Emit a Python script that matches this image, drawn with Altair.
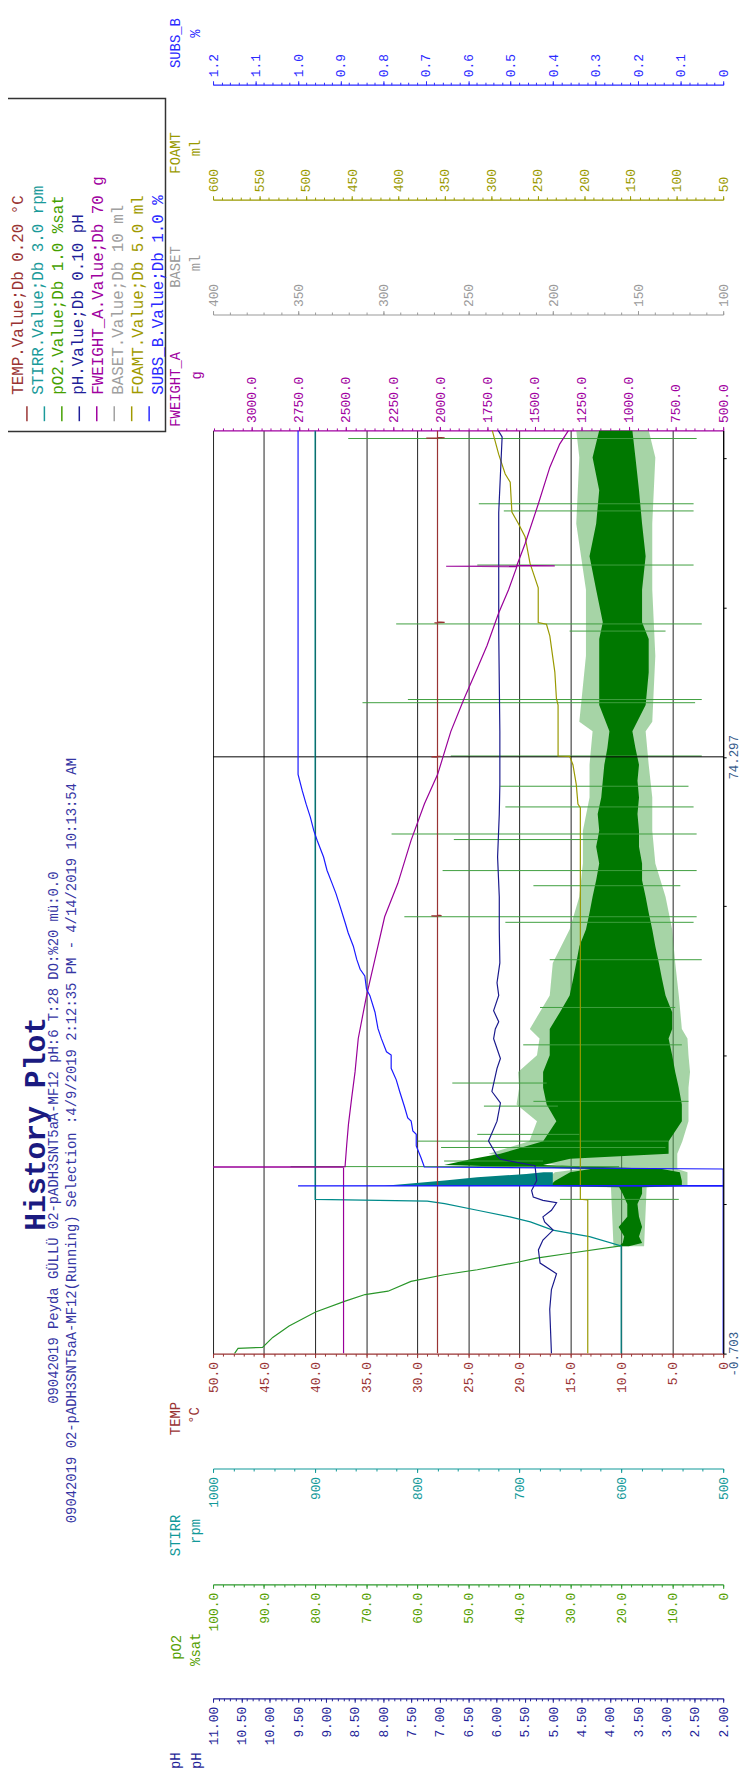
import altair as alt
import pandas as pd

MONO = "Liberation Mono"
W, H = 515, 932

# ---------------- time axis ----------------
T_DOMAIN = [-0.703, 115.32]
TIME_TICKS = [-0.703, 18.047, 36.797, 55.547, 74.297, 93.047, 111.797]
CURSOR_T = [74.297]

# ---------------- series (hours, value) ----------------
TEMP_T = [-0.703, 54.25, 54.30, 54.35, 54.40, 74.25, 74.30, 74.35, 74.40, 91.10, 91.15, 91.20, 91.25,
          114.30, 114.35, 114.40, 114.45, 115.32]
TEMP_V = [28.0, 28.0, 28.6, 27.6, 28.0, 28.0, 28.6, 27.7, 28.0, 28.0, 28.3, 27.3, 28.0,
          28.0, 29.1, 27.3, 28.0, 28.0]

STIRR_T = [-0.703, 12.83, 13.99, 14.82, 15.85, 16.48, 17.31, 18.14, 18.47, 18.68, 115.32]
STIRR_V = [600, 600, 631, 667, 689, 709, 741, 773, 790, 900, 900]

STIRR_BAND_T = [20.38, 20.60, 21.04, 21.46, 21.87, 22.08]
STIRR_BAND_LO = [667, 667, 667, 667, 667, 667]
STIRR_BAND_HI = [832, 812, 773, 741, 693, 676]

PO2_T = [-0.703, -0.04, 0.08, 1.33, 2.78, 4.53, 5.89, 6.72, 7.14, 8.38, 9.21, 9.84, 10.75, 11.29, 11.91, 12.83]
PO2_V = [95.8, 95.1, 90.3, 88.3, 85.1, 79.9, 74.1, 70.2, 65.7, 61.2, 54.7, 48.2, 40.5, 36.6, 30.1, 20.1]

PO2_BAND_T = [12.8, 13.2, 14.0, 15.2, 16.5, 18.1, 19.4, 20.2, 20.35, 21.0, 22.1, 22.5, 23.0, 23.8,
              24.4, 26.0, 28.5, 30.6, 32.7, 34.7, 36.8, 38.9, 40.1, 42.2, 44.3, 46.4, 48.4, 50.5,
              52.6, 54.7, 56.7, 58.8, 60.9, 63.0, 65.0, 67.1, 69.2, 71.3, 73.3, 75.4, 77.5, 80.8,
              84.9, 89.1, 91.2, 95.3, 99.5, 103.6, 107.8, 111.9, 115.32]
PO2_BAND_LO = [18.5, 15.9, 16.5, 15.9, 16.5, 16.8, 15.9, 15.9, 8.1, 8.1, 8.5, 12.0, 35.3, 30.0,
               10.7, 10.7, 8.1, 8.1, 8.7, 9.4, 10.0, 10.7, 10.0, 10.0, 11.3, 12.0, 12.6, 13.3,
               13.9, 14.6, 15.2, 15.9, 15.9, 16.5, 16.5, 16.8, 16.5, 16.8, 16.5, 17.2, 17.8, 15.2,
               14.6, 14.6, 15.9, 15.9, 15.2, 15.9, 16.5, 17.2, 17.8]
PO2_BAND_HI = [20.5, 19.7, 19.4, 20.5, 18.8, 18.8, 19.7, 20.4, 34.0, 33.0, 30.0, 26.0, 54.7, 49.0,
               43.7, 35.3, 32.7, 34.6, 35.3, 35.3, 34.0, 34.0, 34.0, 32.0, 30.1, 29.4, 28.8, 28.2,
               26.9, 26.2, 25.6, 24.9, 24.3, 24.9, 24.3, 24.6, 23.9, 23.6, 23.3, 22.7, 22.3, 24.3,
               24.3, 24.3, 23.6, 24.9, 26.2, 24.9, 24.3, 25.6, 24.3]

PO2_OUT_T = [12.8, 20.2, 20.35, 22.1, 22.5, 24.4, 26.0, 28.5, 30.6, 32.7, 34.7, 36.8, 38.9, 40.1,
             44.3, 48.4, 52.6, 56.7, 60.9, 65.0, 69.2, 73.3, 77.5, 78.7, 87.0, 95.3, 103.6, 111.9, 115.32]
PO2_OUT_LO = [15.5, 15.0, 7.0, 7.0, 9.0, 9.0, 8.0, 6.8, 6.8, 6.8, 6.5, 6.8, 7.0, 8.1,
              8.7, 9.4, 10.0, 11.3, 13.3, 13.9, 13.9, 14.6, 15.2, 13.9, 13.3, 13.9, 13.9, 13.3, 14.6]
PO2_OUT_HI = [21.5, 22.0, 36.0, 33.0, 28.0, 46.0, 38.0, 36.5, 40.5, 40.0, 40.2, 36.5, 36.0, 37.9,
              34.0, 33.4, 30.1, 28.2, 27.5, 27.5, 26.2, 26.2, 25.6, 28.2, 26.9, 26.9, 28.8, 28.2, 28.8]

SPIKE_T = [18.68, 22.80, 23.5, 25.2, 26.0, 26.85, 30.4, 31.0, 33.3, 38.1, 42.8, 48.8, 53.5, 54.2, 58.1,
           60.0, 63.9, 64.6, 68.0, 70.6, 74.4, 81.1, 81.5, 90.1, 91.0, 98.4, 105.2, 106.1, 114.3]
SPIKE_LO = [8.7, 20.4, 35.3, 11.3, 10.7, 28.2, 32.4, 6.8, 34.6, 8.1, 9.4, 4.2, 5.8, 5.2, 8.4,
            5.2, 24.6, 5.2, 5.8, 6.8, 4.2, 5.5, 4.2, 11.3, 4.2, 5.8, 5.8, 5.8, 5.2]
SPIKE_HI = [32.0, 84.8, 54.7, 55.3, 59.9, 48.2, 46.9, 37.2, 53.1, 39.2, 35.9, 34.0, 42.7, 62.5, 37.2,
            55.0, 52.8, 65.0, 42.7, 43.7, 53.4, 70.7, 61.8, 30.1, 64.1, 48.2, 43.0, 47.9, 73.5]

PH_T = [-0.703, 4.86, 7.35, 9.34, 10.67, 12.33, 13.57, 14.82, 15.85, 16.48, 17.31, 18.26, 18.55, 18.97,
        19.80, 21.04, 22.91, 23.32, 23.74, 24.15, 26.02, 28.51, 30.79, 32.24, 35.15, 36.39, 38.88, 40.1,
        41.0, 42.4, 44.3, 45.9, 48.4, 52.6, 56.7, 61.7, 67.1, 70.8, 77.5, 90.0, 105.0, 114.5, 115.32]
PH_V = [5.03, 5.06, 5.03, 4.94, 5.23, 5.26, 5.18, 5.00, 5.15, 5.18, 5.03, 4.94, 5.18, 5.35,
        5.38, 5.29, 5.32, 5.64, 5.93, 5.99, 6.14, 5.99, 5.93, 6.08, 5.99, 5.93, 6.05, 6.02,
        5.96, 6.05, 5.96, 5.99, 5.94, 5.95, 5.95, 5.98, 5.95, 5.94, 5.94, 5.96, 5.96, 5.90, 5.97]

FW_T = [-0.703, 22.70, 22.75, 22.80, 25.6, 28.1, 31.4, 34.7, 38.9, 44.3, 48.8, 54.2, 58.4, 63.8, 68.4,
        72.1, 77.5, 81.6, 85.4, 88.3, 92.4, 95.3, 98.20, 98.25, 98.30, 98.35, 101.1, 106.1, 110.7, 113.6, 115.32]
FW_V = [2513, 2513, 3400, 2505, 2496, 2487, 2470, 2452, 2435, 2391, 2347, 2295, 2225, 2155, 2084,
        2014, 1944, 1874, 1804, 1752, 1690, 1638, 1594, 1969, 1393, 1594, 1550, 1480, 1419, 1367, 1320]

FOAM_T = [-0.703, 18.6, 18.7, 67.9, 68.35, 70.84, 73.3, 74.36, 74.40, 80.8, 81.63, 84.95, 89.5, 90.96,
          91.17, 95.53, 98.64, 101.96, 103.6, 105.07, 108.8, 109.85, 112.3, 115.32]
FOAM_V = [196, 196, 204, 204, 206.6, 208.4, 212, 215.5, 228, 228, 229.8, 231.5, 236.9, 240.5,
          249.4, 249.4, 258.3, 263.6, 270.7, 277.8, 279.6, 285, 292, 299]

SUBS_T = [-0.703, 20.34, 20.38, 20.42, 22.50, 22.75, 23.95, 25.40, 26.85, 27.27, 28.51, 28.93, 30.38,
          32.24, 33.70, 35.15, 36.81, 37.23, 38.88, 40.13, 42.20, 44.28, 45.10, 46.77, 47.60, 48.84,
          50.50, 52.16, 53.41, 55.48, 57.14, 58.39, 60.05, 61.71, 63.78, 65.03, 66.69, 68.35, 70.01,
          72.08, 115.32]
SUBS_V = [0.0, 0.0, 1.0, 0.0, 0.0, 0.703, 0.711, 0.722, 0.722, 0.730, 0.734, 0.742, 0.750,
          0.761, 0.769, 0.781, 0.781, 0.792, 0.804, 0.812, 0.819, 0.831, 0.839, 0.843, 0.854, 0.862,
          0.870, 0.882, 0.889, 0.901, 0.911, 0.920, 0.932, 0.940, 0.955, 0.963, 0.971, 0.981, 0.990,
          1.0, 1.0]

# ---------------- axis scales and tick labels ----------------
TEMP_DOMAIN = [0, 50]
TEMP_TICKS = [0, 5, 10, 15, 20, 25, 30, 35, 40, 45, 50]
STIRR_DOMAIN = [500, 1000]
STIRR_TICKS = [500, 600, 700, 800, 900, 1000]
PO2_DOMAIN = [0, 100]
PO2_TICKS = [0, 10, 20, 30, 40, 50, 60, 70, 80, 90, 100]
PH_DOMAIN = [2, 11]
PH_TICKS = [2.0, 2.5, 3.0, 3.5, 4.0, 4.5, 5.0, 5.5, 6.0, 6.5, 7.0, 7.5, 8.0, 8.5, 9.0, 9.5, 10.0, 10.5, 11.0]
FW_DOMAIN = [500, 3205]
FW_TICKS = [500, 750, 1000, 1250, 1500, 1750, 2000, 2250, 2500, 2750, 3000]
BASET_DOMAIN = [100, 400]
BASET_TICKS = [100, 150, 200, 250, 300, 350, 400]
FOAM_DOMAIN = [50, 600]
FOAM_TICKS = [50, 100, 150, 200, 250, 300, 350, 400, 450, 500, 550, 600]
SUBS_DOMAIN = [0, 1.2]
SUBS_TICKS = [0.0, 0.1, 0.2, 0.3, 0.4, 0.5, 0.6, 0.7, 0.8, 0.9, 1.0, 1.1, 1.2]


def minor(lo, step, n, nd=3):
    return [round(lo + step * k, nd) for k in range(n + 1)]


TEMP_MINOR = minor(0, 1, 50)
STIRR_MINOR = minor(500, 20, 25)
PO2_MINOR = minor(0, 2, 50)
PH_MINOR = minor(2, 0.1, 90)
FW_MINOR = minor(500, 50, 54)
BASET_MINOR = minor(100, 10, 30)
FOAM_MINOR = minor(50, 10, 55)
SUBS_MINOR = minor(0, 0.02, 60)

# ---------------- texts ----------------
TITLE = "History Plot"
SUB1 = "09042019 Peyda GÜLLÜ 02-pADH3SNT5aA-MF12 pH:6 T:28 DO:%20 mü:0.0"
SUB2 = "09042019 02-pADH3SNT5aA-MF12(Running) Selection :4/9/2019 2:12:35 PM - 4/14/2019 10:13:54 AM"
LEG_NAMES = ["TEMP", "STIRR", "pO2", "pH", "FWEIGHT_A", "BASET", "FOAMT", "SUBS_B"]
LEG_LABELS = ["TEMP.Value;Db 0.20 °C", "STIRR.Value;Db 3.0 rpm", "pO2.Value;Db 1.0 %sat",
              "pH.Value;Db 0.10 pH", "FWEIGHT_A.Value;Db 70 g", "BASET.Value;Db 10 ml",
              "FOAMT.Value;Db 5.0 ml", "SUBS_B.Value;Db 1.0 %"]
LEG_COLORS = ["#993333", "#1a9a9a", "#44a000", "#1f1f99", "#a000a0", "#a0a0a0", "#a09a00", "#2a2aff"]

# ---------------- helpers ----------------
def frame(t, **cols):
    d = {"t": t}
    d.update(cols)
    df = pd.DataFrame(d)
    df["i"] = range(len(df))
    return df


def xs(domain):
    return alt.Scale(domain=domain, reverse=True, nice=False, zero=False)


YAXIS = alt.Axis(
    orient="right", values=TIME_TICKS,
    labelExpr="abs(datum.value + 0.703) < 0.001 ? '-0.703' : (abs(datum.value - 74.297) < 0.001 ? '74.297' : '')",
    tickSize=3, tickColor="black", domainColor="black", domainWidth=1.2,
    labelAngle=270, labelAlign="center", labelBaseline="top", labelPadding=1,
    labelFont=MONO, labelFontSize=12.5, labelColor="#355a8a",
    labelOverlap=False, labelFlush=False, grid=False, title=None)


def Y():
    return alt.Y("t:Q", scale=alt.Scale(domain=T_DOMAIN, nice=False, zero=False), axis=YAXIS)


def line(t, v, domain, color, width=1.2):
    return alt.Chart(frame(t, v=v)).mark_line(color=color, strokeWidth=width, clip=True).encode(
        x=alt.X("v:Q", scale=xs(domain), axis=None), y=Y(), order=alt.Order("i:Q"))


def band(t, lo, hi, domain, color, opacity=1.0):
    return alt.Chart(frame(t, lo=lo, hi=hi)).mark_area(
        orient="horizontal", color=color, opacity=opacity, clip=True).encode(
        x=alt.X("lo:Q", scale=xs(domain), axis=None), x2="hi:Q", y=Y())


def spikes(t, lo, hi, domain, color):
    return alt.Chart(frame(t, lo=lo, hi=hi)).mark_rule(color=color, strokeWidth=1, clip=True).encode(
        x=alt.X("lo:Q", scale=xs(domain), axis=None), x2="hi:Q", y=Y())


def axis_layer(domain, orient, offset, values, color, title, tx, ty,
               label_color=None, label_expr=None, is_minor=False, grid=False):
    kw = dict(orient=orient, offset=offset, values=values, tickColor=color, tickWidth=1,
              title=title, titleColor=label_color or color, titleX=tx, titleY=ty,
              titleAngle=270, titleAlign="center", titleBaseline="middle",
              titleFont=MONO, titleFontSize=14, titleFontWeight="normal", grid=grid)
    if is_minor:
        kw.update(labels=False, domain=False, tickSize=2.5)
    else:
        kw.update(domain=True, domainColor=color, domainWidth=1.2, tickSize=4, labels=True,
                  labelAngle=270, labelAlign="right" if orient == "bottom" else "left",
                  labelBaseline="middle", labelFont=MONO, labelFontSize=13,
                  labelColor=label_color or color, labelPadding=4,
                  labelOverlap=False, labelFlush=False, labelExpr=label_expr)
    if grid:
        kw.update(gridColor="#222222", gridWidth=1)
    carrier = pd.DataFrame({"t": [50.0], "v": [(domain[0] + domain[1]) / 2.0]})
    return alt.Chart(carrier).mark_point(opacity=0).encode(
        x=alt.X("v:Q", scale=xs(domain), axis=alt.Axis(**kw)), y=Y())


def text_layer(txt, x, y, size, color, weight="normal"):
    return alt.Chart(pd.DataFrame({"s": [txt]})).mark_text(
        angle=270, align="center", baseline="middle", font=MONO, fontSize=size,
        fontWeight=weight, color=color).encode(text="s:N", x=alt.value(x), y=alt.value(y))


F1 = "format(datum.value, '.1f')"
Z1 = "datum.value == 0 ? '0' : format(datum.value, '.1f')"
D0 = "format(datum.value, 'd')"
F2 = "format(datum.value, '.2f')"

axes = [
    # bottom axes (originally left-hand y axes)
    axis_layer(TEMP_DOMAIN, "bottom", 0, TEMP_TICKS, "#993333", "TEMP", -37.5, 65, label_expr=Z1, grid=True),
    axis_layer(TEMP_DOMAIN, "bottom", 0, TEMP_MINOR, "#993333", "°C", -19, 62, is_minor=True),
    axis_layer(STIRR_DOMAIN, "bottom", 116, STIRR_TICKS, "#119999", "STIRR", -37.5, 67, label_expr=D0),
    axis_layer(STIRR_DOMAIN, "bottom", 116, STIRR_MINOR, "#119999", "rpm", -18, 63, is_minor=True),
    axis_layer(PO2_DOMAIN, "bottom", 233, PO2_TICKS, "#2e9a2e", "pO2", -37, 63, label_color="#55a000", label_expr=Z1),
    axis_layer(PO2_DOMAIN, "bottom", 233, PO2_MINOR, "#2e9a2e", "%sat", -18, 65, label_color="#55a000", is_minor=True),
    axis_layer(PH_DOMAIN, "bottom", 348, PH_TICKS, "#1f1f99", "pH", -37.5, 62.5, label_expr=F2),
    axis_layer(PH_DOMAIN, "bottom", 348, PH_MINOR, "#1f1f99", "pH", -17, 62.5, is_minor=True),
    # top axes (originally right-hand y axes)
    axis_layer(FW_DOMAIN, "top", 0, FW_TICKS, "#a000a0", "FWEIGHT_A", -37.5, -42, label_expr=F1),
    axis_layer(FW_DOMAIN, "top", 0, FW_MINOR, "#a000a0", "g", -17, -56, is_minor=True),
    axis_layer(BASET_DOMAIN, "top", 117, BASET_TICKS, "#9a9a9a", "BASET", -37.5, -48.5, label_expr=D0),
    axis_layer(BASET_DOMAIN, "top", 117, BASET_MINOR, "#9a9a9a", "ml", -17.5, -52.6, is_minor=True),
    axis_layer(FOAM_DOMAIN, "top", 233, FOAM_TICKS, "#9a9a00", "FOAMT", -37.5, -47.7, label_expr=D0),
    axis_layer(FOAM_DOMAIN, "top", 233, FOAM_MINOR, "#9a9a00", "ml", -17.5, -52.7, is_minor=True),
    axis_layer(SUBS_DOMAIN, "top", 349, SUBS_TICKS, "#2a2aff", "SUBS_B", -37.5, -42.5, label_expr=Z1),
    axis_layer(SUBS_DOMAIN, "top", 349, SUBS_MINOR, "#2a2aff", "%", -17.5, -52, is_minor=True),
]

cursor = alt.Chart(pd.DataFrame({"t": CURSOR_T})).mark_rule(color="black", strokeWidth=1).encode(y=Y())

series = [
    band(PO2_OUT_T, PO2_OUT_LO, PO2_OUT_HI, PO2_DOMAIN, "#5cb05c", 0.55),
    band(PO2_BAND_T, PO2_BAND_LO, PO2_BAND_HI, PO2_DOMAIN, "#007800"),
    spikes(SPIKE_T, SPIKE_LO, SPIKE_HI, PO2_DOMAIN, "#3f9f3f"),
    line(PO2_T, PO2_V, PO2_DOMAIN, "#2a962a"),
    cursor,
    band(STIRR_BAND_T, STIRR_BAND_LO, STIRR_BAND_HI, STIRR_DOMAIN, "#008080"),
    line(STIRR_T, STIRR_V, STIRR_DOMAIN, "#008b8b"),
    line(TEMP_T, TEMP_V, TEMP_DOMAIN, "#993333"),
    line(FOAM_T, FOAM_V, FOAM_DOMAIN, "#999900"),
    line(PH_T, PH_V, PH_DOMAIN, "#1a1a8c"),
    line(FW_T, FW_V, FW_DOMAIN, "#990099"),
    line(SUBS_T, SUBS_V, SUBS_DOMAIN, "#1a1aff"),
]

# ---------------- legend (rotated) ----------------
leg_df = pd.DataFrame({"name": LEG_NAMES, "label": LEG_LABELS})
leg_x = alt.X("name:N", scale=alt.Scale(domain=LEG_NAMES, range=[-196.7, -55.7], padding=0), axis=None)
leg_c = alt.Color("name:N", scale=alt.Scale(domain=LEG_NAMES, range=LEG_COLORS), legend=None)

leg_box = alt.Chart(pd.DataFrame({"k": [0]})).mark_rect(
    fill="white", stroke="#333333", strokeWidth=1.5).encode(
    x=alt.value(-208), x2=alt.value(-48), y=alt.value(-335), y2=alt.value(1))
leg_sym = alt.Chart(leg_df).mark_rule(strokeWidth=1.5).encode(
    x=leg_x, y=alt.value(-24.3), y2=alt.value(-9.3), color=leg_c)
leg_txt = alt.Chart(leg_df).mark_text(
    angle=270, align="left", baseline="middle", font=MONO, fontSize=16).encode(
    x=leg_x, y=alt.value(-36), text="label:N", color=leg_c)

titles = [
    text_layer(TITLE, -179, 700, 30, "#1a1a80", "bold"),
    text_layer(SUB1, -161, 714, 14, "#3636a4"),
    text_layer(SUB2, -142.5, 717, 14, "#3636a4"),
]

chart = alt.layer(*axes, *series, leg_box, leg_sym, leg_txt, *titles).resolve_scale(
    x="independent"
).properties(
    width=W, height=H,
    padding={"left": 207, "top": 418, "right": 19, "bottom": 420},
    autosize=alt.AutoSizeParams(type="none"),
).configure_view(strokeWidth=0)

chart.save("out.html", embed_options={"renderer": "svg", "actions": False})
